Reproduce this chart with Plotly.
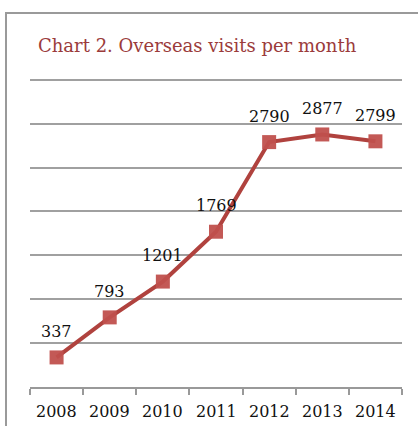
import plotly.graph_objects as go

years = ["2008", "2009", "2010", "2011", "2012", "2013", "2014"]
visits = [337, 793, 1201, 1769, 2790, 2877, 2799]
y_ticks = [0, 500, 1000, 1500, 2000, 2500, 3000, 3500]
title_text = "Chart 2. Overseas visits per month"

W, H = 418, 426
ml, mr, mt, mb = 30, 16, 71, 39
pw, ph = W - ml - mr, H - mt - mb

fig = go.Figure()
fig.add_trace(go.Scatter(
    x=years, y=visits, mode="lines+markers",
    line=dict(color="#b0423e", width=4),
    marker=dict(symbol="square", size=14, color="rgba(192,80,77,0.95)"),
    cliponaxis=False, hoverinfo="skip",
))

for i, (yr, v) in enumerate(zip(years, visits)):
    fig.add_annotation(x=i, y=v, xref="x", yref="y", text=str(v), showarrow=False,
                       yshift=26, xanchor="center", yanchor="middle",
                       font=dict(family="DejaVu Serif", size=16, color="#111"))
    fig.add_annotation(x=i, y=0, xref="x", yref="y", text=yr, showarrow=False,
                       yshift=-24, xanchor="center", yanchor="middle",
                       font=dict(family="DejaVu Serif", size=16, color="#111"))

def px_x(p):
    return (p - ml) / pw

def px_y(p):
    return (H - mb - p) / ph

fig.add_shape(type="rect", xref="paper", yref="paper",
              x0=px_x(6), x1=px_x(440), y0=px_y(13), y1=px_y(450),
              line=dict(color="#9a9a9a", width=2), layer="below")

fig.add_annotation(text=title_text, xref="paper", yref="paper",
                   x=px_x(36), y=px_y(45), xanchor="left", yanchor="middle",
                   showarrow=False,
                   font=dict(family="DejaVu Serif", size=18, color="#9b3b3b"))

fig.update_layout(
    width=W, height=H, margin=dict(l=ml, r=mr, t=mt, b=mb, autoexpand=False),
    paper_bgcolor="white", plot_bgcolor="white", showlegend=False,
    xaxis=dict(type="category", tickson="boundaries", ticks="outside",
               ticklen=6, tickcolor="#999", tickwidth=1.5,
               showline=True, linecolor="#999", linewidth=1.5,
               showgrid=False, range=[-0.5, 6.5], showticklabels=False,
               categoryorder="array", categoryarray=years),
    yaxis=dict(range=[0, 3600], tickvals=y_ticks, showticklabels=False,
               showgrid=True, gridcolor="#a0a0a0", gridwidth=1.5,
               zeroline=False, showline=False, fixedrange=True),
)

fig.write_html("out.html")
